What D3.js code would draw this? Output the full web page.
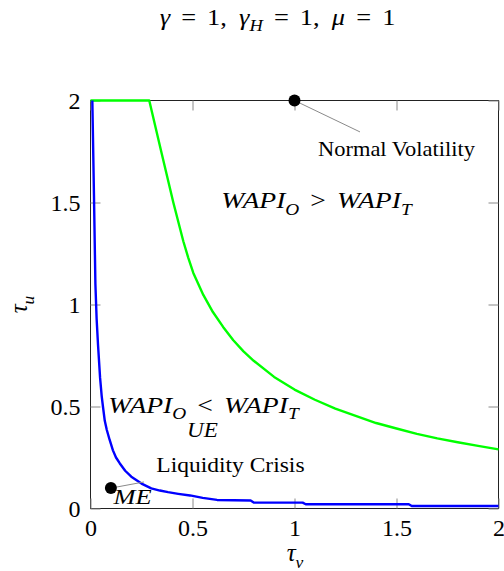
<!DOCTYPE html>
<html>
<head>
<meta charset="utf-8">
<script src="https://cdn.jsdelivr.net/npm/d3@7"></script>
<style>
  body { margin: 0; background: #fff; }
  svg text { font-family: "Liberation Serif", serif; }
</style>
</head>
<body>
<svg id="chart" width="504" height="571"></svg>
<script>
// Boundary WAPI_O = WAPI_T (green)
const greenTauV = [0, 0.288, 0.349, 0.406, 0.455, 0.479, 0.504, 0.553, 0.60, 0.65, 0.70, 0.75, 0.80, 0.90, 1.00, 1.10, 1.20, 1.30, 1.40, 1.50, 1.60, 1.70, 1.80, 1.90, 2.00];
const greenTauU = [2, 2, 1.74, 1.50, 1.31, 1.23, 1.155, 1.047, 0.963, 0.89, 0.825, 0.77, 0.724, 0.645, 0.583, 0.533, 0.49, 0.454, 0.419, 0.392, 0.366, 0.344, 0.325, 0.307, 0.29];

// Boundary between UE and ME regions (blue)
const blueTauV = [0.009, 0.017, 0.024, 0.03, 0.037, 0.047, 0.055, 0.061, 0.07, 0.08, 0.094, 0.11, 0.125, 0.143, 0.17, 0.2, 0.25, 0.298, 0.34, 0.38, 0.43, 0.488, 0.55, 0.62, 0.785, 0.80, 1.04, 1.055, 1.56, 1.575, 2.0];
const blueTauU = [2.0, 1.537, 1.10, 0.93, 0.80, 0.64, 0.55, 0.50, 0.43, 0.385, 0.336, 0.285, 0.25, 0.222, 0.185, 0.156, 0.122, 0.099, 0.088, 0.08, 0.072, 0.064, 0.052, 0.042, 0.039, 0.029, 0.029, 0.021, 0.021, 0.012, 0.012];

const xTicks = [0, 0.5, 1, 1.5, 2];
const yTicks = [0, 0.5, 1, 1.5, 2];
const tickLabels = ["0", "0.5", "1", "1.5", "2"];

// Marked scenarios and their pin-line ends
const dotTauV = [1, 0.1];
const dotTauU = [2, 0.1];
const pinEndTauV = [1.321, 0.262];
const pinEndTauU = [1.846, 0.13];

const SERIF = "Liberation Serif";

const svg = d3.select("#chart");
const x = d3.scaleLinear().domain([0, 2]).range([90.5, 498.5]);
const y = d3.scaleLinear().domain([0, 2]).range([508.5, 100.5]);

// Writes math-style pieces: [text, kind, gapBefore(em)], kind r/i (roman/italic), prefixed by s for subscripts
function setMath(text, parts, size) {
  let shift = 0;
  parts.forEach(([s, kind, gap]) => {
    const sub = kind.startsWith("s");
    const target = sub ? size * 0.27 : 0;
    const ts = text.append("tspan").text(s)
      .style("font-family", SERIF)
      .style("font-style", kind.endsWith("i") ? "italic" : "normal")
      .style("font-size", (sub ? size * 0.7 : size) + "px");
    if (target !== shift) { ts.attr("dy", target - shift); shift = target; }
    if (gap) ts.attr("dx", gap * size);
  });
  return text;
}
// Centred label, widened horizontally by a fixed factor
function label(xp, yp, parts, size, sx = 1) {
  const t = svg.append("text").attr("x", xp).attr("y", yp)
    .attr("text-anchor", "middle").style("font-family", SERIF).attr("fill", "#000");
  setMath(t, parts, size);
  if (sx !== 1) t.attr("transform", `translate(${xp},0) scale(${sx},1) translate(${-xp},0)`);
  return t;
}

// Frame
svg.append("rect")
  .attr("x", x(0)).attr("y", y(2))
  .attr("width", x(2) - x(0)).attr("height", y(0) - y(2))
  .attr("fill", "none").attr("stroke", "#222").attr("stroke-width", 1);

// Axes with inward ticks on all four sides
function styleAxis(g) {
  g.select(".domain").remove();
  g.attr("font-family", null).attr("font-size", null);
  g.selectAll(".tick line").attr("stroke", "#8a8a8a").attr("stroke-width", 1);
  g.selectAll(".tick text")
    .style("font-family", SERIF).style("font-size", "24px").attr("fill", "#000");
}
svg.append("g").attr("transform", `translate(0,${y(0)})`)
  .call(d3.axisBottom(x).tickValues(xTicks).tickSize(-10).tickPadding(10)
    .tickFormat((d, i) => tickLabels[i]))
  .call(styleAxis);
svg.append("g").attr("transform", `translate(${x(0)},0)`)
  .call(d3.axisLeft(y).tickValues(yTicks).tickSize(-10).tickPadding(10)
    .tickFormat((d, i) => tickLabels[i]))
  .call(styleAxis);
svg.append("g").attr("transform", `translate(0,${y(2)})`)
  .call(d3.axisTop(x).tickValues(xTicks).tickSize(-10).tickFormat(""))
  .call(styleAxis);
svg.append("g").attr("transform", `translate(${x(2)},0)`)
  .call(d3.axisRight(y).tickValues(yTicks).tickSize(-10).tickFormat(""))
  .call(styleAxis);

// Curves
const line = d3.line().x(d => x(d[0])).y(d => y(d[1]));
svg.append("path")
  .datum(greenTauV.map((v, i) => [v, greenTauU[i]]))
  .attr("d", line).attr("fill", "none")
  .attr("stroke", "#00ff00").attr("stroke-width", 2.4).attr("stroke-linejoin", "round");
svg.append("path")
  .datum(blueTauV.map((v, i) => [v, blueTauU[i]]))
  .attr("d", line).attr("fill", "none")
  .attr("stroke", "#0000ff").attr("stroke-width", 2.4).attr("stroke-linejoin", "round");

// Pin lines and dots
dotTauV.forEach((v, i) => {
  svg.append("line")
    .attr("x1", x(v)).attr("y1", y(dotTauU[i]))
    .attr("x2", x(pinEndTauV[i])).attr("y2", y(pinEndTauU[i]))
    .attr("stroke", "#8a8a8a").attr("stroke-width", 1);
});
svg.selectAll("circle.dot")
  .data(dotTauV.map((v, i) => [v, dotTauU[i]]))
  .join("circle").attr("class", "dot")
  .attr("cx", d => x(d[0])).attr("cy", d => y(d[1])).attr("r", 6)
  .attr("fill", "#000");

// Title
label(277.5, 25, [
  ["γ", "i"], ["=", "r", 0.42], ["1", "r", 0.42], [",", "r"],
  ["γ", "i", 0.46], ["H", "si"], ["=", "r", 0.42], ["1", "r", 0.42], [",", "r"],
  ["μ", "i", 0.46], ["=", "r", 0.42], ["1", "r", 0.42]
], 24, 1.1);

// Region and scenario labels
label(x(1.5), y(1.728), [["Normal Volatility", "r"]], 21, 1.07);
label(x(1.108), y(1.472), [["WAPI", "i"], ["O", "si"], [">", "r", 0.4], ["WAPI", "i", 0.4], ["T", "si"]], 24, 1.15);
label(x(0.554), y(0.47), [["WAPI", "i"], ["O", "si"], ["<", "r", 0.4], ["WAPI", "i", 0.4], ["T", "si"]], 24, 1.15);
label(x(0.549), y(0.35), [["UE", "i"]], 22, 1.05);
label(x(0.686), y(0.18), [["Liquidity Crisis", "r"]], 21, 1.12);
label(x(0.206), y(0.022), [["ME", "i"]], 22, 1.2);

// Axis titles
label(295, 561, [["τ", "i"], ["v", "si"]], 25);
const yl = svg.append("text")
  .attr("text-anchor", "middle").style("font-family", SERIF)
  .attr("transform", `translate(27,${y(1)}) rotate(-90)`);
setMath(yl, [["τ", "i"], ["u", "si"]], 25);
</script>
</body>
</html>
